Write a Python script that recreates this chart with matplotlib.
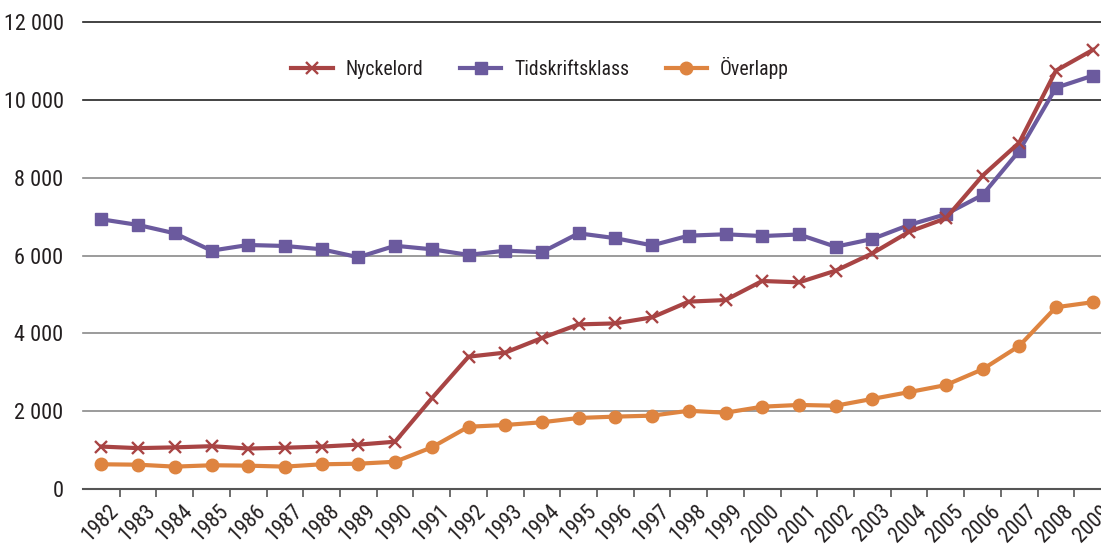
import matplotlib
matplotlib.use("Agg")
import matplotlib.pyplot as plt
from matplotlib import font_manager as fm
from matplotlib.transforms import ScaledTranslation

years = list(range(1982, 2010))

nyckelord = [1090, 1050, 1070, 1100, 1040, 1060, 1090, 1140, 1215, 2330,
             3400, 3505, 3880, 4230, 4255, 4410, 4815, 4855, 5345, 5310,
             5610, 6055, 6610, 6955, 8050, 8900, 10750, 11280]
tidskriftsklass = [6930, 6785, 6570, 6125, 6270, 6245, 6160, 5955, 6250, 6160,
                   6015, 6125, 6085, 6570, 6445, 6260, 6510, 6545, 6500, 6540,
                   6225, 6425, 6785, 7060, 7555, 8690, 10310, 10620]
overlapp = [635, 625, 575, 610, 600, 575, 635, 650, 700, 1070,
            1600, 1645, 1715, 1825, 1860, 1885, 2010, 1960, 2115, 2160,
            2140, 2315, 2490, 2670, 3075, 3675, 4670, 4800]

y_ticks = [0, 2000, 4000, 6000, 8000, 10000, 12000]
y_labels = ["0", "2 000", "4 000", "6 000", "8 000", "10 000", "12 000"]

# pick a narrow face if one is installed (the original uses a condensed font)
narrow = None
for f in fm.fontManager.ttflist:
    n = f.fname.lower()
    if ("narrow" in n or "condensed" in n) and "bold" not in n and "oblique" not in n \
            and "italic" not in n:
        narrow = f
        if "liberation" in n:
            break
if narrow is not None:
    plt.rcParams["font.family"] = [narrow.name, "DejaVu Sans"]
    plt.rcParams["font.stretch"] = narrow.stretch
else:
    plt.rcParams["font.family"] = ["DejaVu Sans"]
TXT = "#231f20"

W, H = 1101, 548
fig = plt.figure(figsize=(W / 100, H / 100), dpi=100)
ax = fig.add_axes([83 / W, 1 - 489 / H, (1111 - 83) / W, (489 - 22) / H])

x = list(range(len(years)))
ax.plot(x, nyckelord, color="#a84444", lw=3.0, marker="x", ms=9, mew=1.7,
        label="Nyckelord", zorder=4)
ax.plot(x, tidskriftsklass, color="#6b5a9e", lw=3.0, marker="s", ms=9,
        label="Tidskriftsklass", zorder=3)
ax.plot(x, overlapp, color="#de8440", lw=3.0, marker="o", ms=9,
        label="Överlapp", zorder=3)

ax.set_xlim(-0.5, len(years) - 0.5)
ax.set_ylim(0, 12000)

for v in y_ticks[1:]:
    c = "#222222" if v >= 10000 else "#8a8a8a"
    ax.axhline(v, color=c, lw=1.2, zorder=1, clip_on=False)

for s in ["top", "right", "left"]:
    ax.spines[s].set_visible(False)
ax.spines["bottom"].set_color("#555555")
ax.spines["bottom"].set_linewidth(1.5)

ax.set_yticks(y_ticks)
ax.set_yticklabels(y_labels, fontsize=16, color=TXT)
ax.tick_params(axis="y", length=0, pad=14)

ax.set_xticks([i + 0.5 for i in x[:-1]])
ax.set_xticklabels([])
ax.tick_params(axis="x", length=6, width=1.2, color="#555555", direction="out")

off = ScaledTranslation(7 / 100, -12 / 100, fig.dpi_scale_trans)
for i, yr in enumerate(years):
    ax.text(i, 0, str(yr), transform=ax.get_xaxis_transform() + off,
            rotation=45, rotation_mode="anchor", ha="right", va="top",
            fontsize=15.5, color=TXT, clip_on=False)

leg = fig.legend(loc="center", bbox_to_anchor=(540 / W, 1 - 68 / H), ncol=3,
                 frameon=False, fontsize=14.2, handlelength=2.1,
                 handletextpad=0.65, columnspacing=1.85)
for t in leg.get_texts():
    t.set_color(TXT)

fig.savefig("out.png", dpi=100)
